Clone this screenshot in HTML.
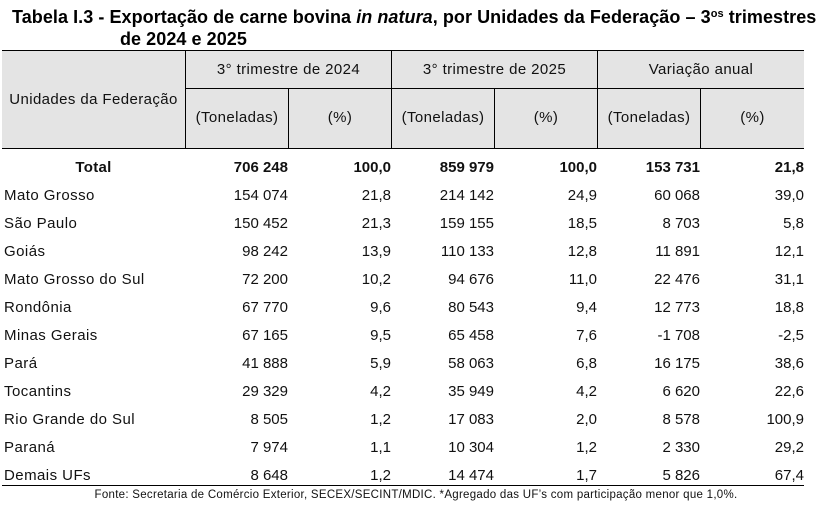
<!DOCTYPE html>
<html><head><meta charset="utf-8">
<style>
html,body{margin:0;padding:0;background:#fff;}
body{width:832px;height:511px;position:relative;overflow:hidden;font-family:"Liberation Sans",Arial,sans-serif;color:#111;}
.t{position:absolute;white-space:nowrap;font-weight:bold;font-size:18px;line-height:22px;color:#000;letter-spacing:0.06px;}
.hd{position:absolute;left:2px;top:50px;width:802px;height:98px;background:#e4e4e4;}
.hl{position:absolute;background:#000;height:1.3px;}
.vl{position:absolute;background:#000;width:1.2px;}
.hc{position:absolute;font-size:15px;letter-spacing:0.4px;text-align:center;white-space:nowrap;color:#111;}
.r{position:absolute;left:0;width:832px;height:28px;line-height:28px;font-size:15px;}
.r span{position:absolute;top:0;white-space:nowrap;}
.n{left:4px;letter-spacing:0.45px;}
.c{text-align:right;}
.c1{right:544px;} .c2{right:441px;} .c3{right:338px;} .c4{right:235px;} .c5{right:132px;} .c6{right:28px;}
.b{font-weight:bold;}
.f{position:absolute;left:0;width:832px;text-align:center;top:488px;font-size:11.5px;letter-spacing:0.28px;line-height:14px;color:#111;}
</style></head><body>
<div class="t" style="left:12px;top:5.5px;">Tabela I.3 - Exportação de carne bovina <i>in natura</i>, por Unidades da Federação – 3<sup style="font-size:11px;vertical-align:6px;line-height:0">os</sup> trimestres</div>
<div class="t" style="left:120px;top:28px;">de 2024 e 2025</div>

<div class="hd"></div>
<div class="hl" style="left:2px;top:49.5px;width:802px;"></div>
<div class="hl" style="left:185px;top:87.8px;width:619px;"></div>
<div class="hl" style="left:2px;top:147.8px;width:802px;"></div>
<div class="vl" style="left:185px;top:50px;height:98px;"></div>
<div class="vl" style="left:288px;top:88px;height:60px;"></div>
<div class="vl" style="left:391px;top:50px;height:98px;"></div>
<div class="vl" style="left:494px;top:88px;height:60px;"></div>
<div class="vl" style="left:597px;top:50px;height:98px;"></div>
<div class="vl" style="left:700px;top:88px;height:60px;"></div>

<div class="hc" style="left:2px;width:183px;top:90px;line-height:20px;">Unidades da Federação</div>
<div class="hc" style="left:186px;width:205px;top:60px;line-height:20px;">3° trimestre de 2024</div>
<div class="hc" style="left:392px;width:205px;top:60px;line-height:20px;">3° trimestre de 2025</div>
<div class="hc" style="left:598px;width:206px;top:60px;line-height:20px;">Variação anual</div>
<div class="hc" style="left:186px;width:102px;top:108px;line-height:20px;">(Toneladas)</div>
<div class="hc" style="left:289px;width:102px;top:108px;line-height:20px;">(%)</div>
<div class="hc" style="left:392px;width:102px;top:108px;line-height:20px;">(Toneladas)</div>
<div class="hc" style="left:495px;width:102px;top:108px;line-height:20px;">(%)</div>
<div class="hc" style="left:598px;width:102px;top:108px;line-height:20px;">(Toneladas)</div>
<div class="hc" style="left:701px;width:103px;top:108px;line-height:20px;">(%)</div>

<div class="r b" style="top:154px;"><span style="left:2px;width:183px;text-align:center;letter-spacing:0.3px;">Total</span><span class="c c1">706 248</span><span class="c c2">100,0</span><span class="c c3">859 979</span><span class="c c4">100,0</span><span class="c c5">153 731</span><span class="c c6">21,8</span></div>
<div class="r" style="top:182px;"><span class="n">Mato Grosso</span><span class="c c1">154 074</span><span class="c c2">21,8</span><span class="c c3">214 142</span><span class="c c4">24,9</span><span class="c c5">60 068</span><span class="c c6">39,0</span></div>
<div class="r" style="top:210px;"><span class="n">São Paulo</span><span class="c c1">150 452</span><span class="c c2">21,3</span><span class="c c3">159 155</span><span class="c c4">18,5</span><span class="c c5">8 703</span><span class="c c6">5,8</span></div>
<div class="r" style="top:238px;"><span class="n">Goiás</span><span class="c c1">98 242</span><span class="c c2">13,9</span><span class="c c3">110 133</span><span class="c c4">12,8</span><span class="c c5">11 891</span><span class="c c6">12,1</span></div>
<div class="r" style="top:266px;"><span class="n">Mato Grosso do Sul</span><span class="c c1">72 200</span><span class="c c2">10,2</span><span class="c c3">94 676</span><span class="c c4">11,0</span><span class="c c5">22 476</span><span class="c c6">31,1</span></div>
<div class="r" style="top:294px;"><span class="n">Rondônia</span><span class="c c1">67 770</span><span class="c c2">9,6</span><span class="c c3">80 543</span><span class="c c4">9,4</span><span class="c c5">12 773</span><span class="c c6">18,8</span></div>
<div class="r" style="top:322px;"><span class="n">Minas Gerais</span><span class="c c1">67 165</span><span class="c c2">9,5</span><span class="c c3">65 458</span><span class="c c4">7,6</span><span class="c c5">-1 708</span><span class="c c6">-2,5</span></div>
<div class="r" style="top:350px;"><span class="n">Pará</span><span class="c c1">41 888</span><span class="c c2">5,9</span><span class="c c3">58 063</span><span class="c c4">6,8</span><span class="c c5">16 175</span><span class="c c6">38,6</span></div>
<div class="r" style="top:378px;"><span class="n">Tocantins</span><span class="c c1">29 329</span><span class="c c2">4,2</span><span class="c c3">35 949</span><span class="c c4">4,2</span><span class="c c5">6 620</span><span class="c c6">22,6</span></div>
<div class="r" style="top:406px;"><span class="n">Rio Grande do Sul</span><span class="c c1">8 505</span><span class="c c2">1,2</span><span class="c c3">17 083</span><span class="c c4">2,0</span><span class="c c5">8 578</span><span class="c c6">100,9</span></div>
<div class="r" style="top:434px;"><span class="n">Paraná</span><span class="c c1">7 974</span><span class="c c2">1,1</span><span class="c c3">10 304</span><span class="c c4">1,2</span><span class="c c5">2 330</span><span class="c c6">29,2</span></div>
<div class="r" style="top:462px;"><span class="n">Demais UFs</span><span class="c c1">8 648</span><span class="c c2">1,2</span><span class="c c3">14 474</span><span class="c c4">1,7</span><span class="c c5">5 826</span><span class="c c6">67,4</span></div>

<div class="hl" style="left:2px;top:485px;width:802px;"></div>
<div class="f">Fonte: Secretaria de Comércio Exterior, SECEX/SECINT/MDIC. *Agregado das UF’s com participação menor que 1,0%.</div>
</body></html>
